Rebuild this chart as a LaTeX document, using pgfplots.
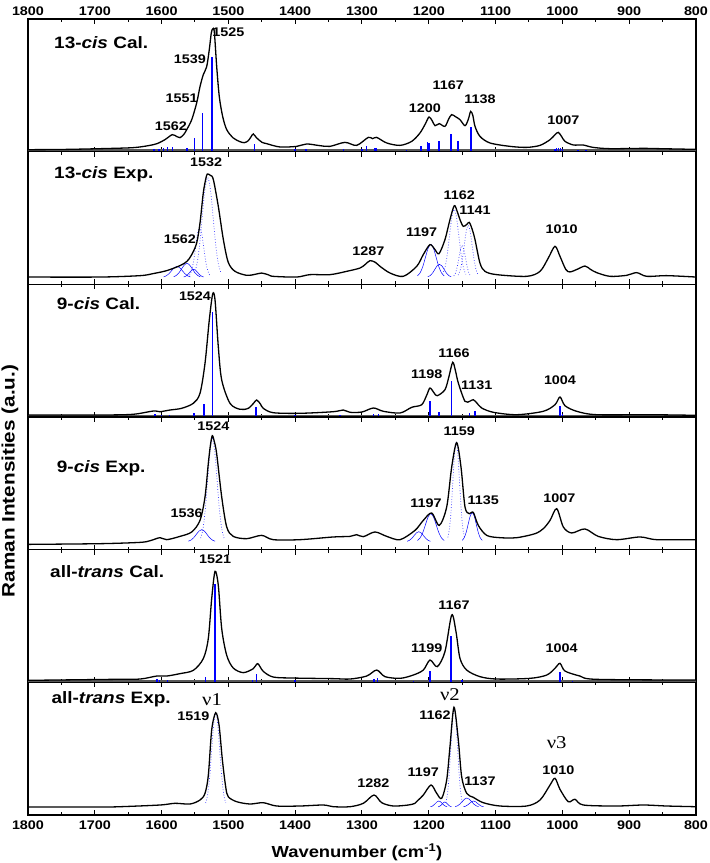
\documentclass[border=0pt]{standalone}
\usepackage{pgfplots}
\pgfplotsset{compat=1.18}
\usepackage{fontspec}
\setmainfont{Liberation Sans}[FakeStretch=1.15]
\newfontfamily\serifnu{Liberation Serif}[FakeStretch=1.15]
\newcommand\pk{\bfseries\fontsize{12.5}{14}\selectfont}
\newcommand\ttl{\bfseries\fontsize{16.5}{19}\selectfont}
\newcommand\nuf{\serifnu\fontsize{18}{20}\selectfont}
\pgfkeys{/pgf/number format/set thousands separator={}}
\pgfplotsset{
  panel/.style={
    width=668pt, height=132.667pt, scale only axis,
    xmin=800, xmax=1800, x dir=reverse,
    ymin=0, ymax=132.667,
    xtick={800,900,...,1800}, minor xtick={850,950,...,1750},
    ytick=\empty,
    tick align=inside,
    major tick length=5pt, minor tick length=3pt,
    every tick/.style={black, line width=1pt},
    axis line style={line width=1.2pt},
    anchor=north west,
    /pgf/number format/assume math mode=true,
    ticklabel style={font=\bfseries\fontsize{12.5}{14}\selectfont},
  },
  spec/.style={black, line width=1.3pt, smooth, tension=0.5, no marks},
  stick/.style={blue, ycomb, line width=1.5pt, no marks},
  base/.style={gray!70!black, line width=2pt, no marks},
  fits/.style={blue, line width=0.5pt, smooth, no marks},
  fitd/.style={blue!80!white, dotted, line width=0.7pt, smooth, no marks},
}
\begin{document}
\begin{tikzpicture}
\path[use as bounding box] (-28pt,19pt) rectangle (682pt,-844pt);
\node[rotate=90, font=\bfseries\fontsize{18}{21}\selectfont] at (-18pt,-462pt) {Raman Intensities (a.u.)};

% ---------- Panel 1: 13-cis Cal.
\begin{axis}[panel, at={(0pt,0pt)}, xticklabel pos=upper]
\addplot[base] coordinates {(1800,1.5)(800,1.5)};
\addplot[stick] coordinates {(1611,3)(1604,3)(1597,4)(1591,5)(1584,4.3)(1562,4)(1551,13.3)(1538.5,38.3)(1524.5,95)(1461,7.7)(1400,3)(1384,3)(1328,3)(1300,3)(1293,6)(1280.5,4)(1278,4)(1233,2)(1212,6)(1202,9.7)(1200,9)(1185,11)(1167,17.7)(1156,11)(1137,24.3)(1011,2.5)(1009,4)(1006,4)(1003,4)(1000,2.5)(977,1.5)(965,1.5)};
\addplot[spec] coordinates {(1800,2)(1750,2.2)(1692,3)(1643,4)(1620,6)(1607,8)(1595,12)(1584,17)(1577,15)(1572.5,14)(1567,17)(1562.4,22)(1554.9,32)(1547.5,48.7)(1542.5,65)(1537.6,77)(1532.5,85)(1528.6,102)(1525.6,118.7)(1523.5,122.7)(1521.1,120)(1517.5,85)(1513.6,55)(1508.5,35)(1502.5,22)(1492.7,13.7)(1482.6,10)(1476,9)(1470.2,11)(1466,15)(1462.7,17.7)(1458,14)(1450,9.5)(1442.7,8)(1422.8,4.7)(1397.8,5.3)(1382.8,7.7)(1362.9,6)(1347.9,5.3)(1325.5,9.3)(1308,6.3)(1290.6,14.3)(1284,13)(1278,14.3)(1263,8.7)(1243.1,6.3)(1225.6,10.3)(1213.2,18.7)(1205,28)(1199.7,34.7)(1195,31)(1190.7,26)(1184.3,28)(1175.8,25.3)(1170,33)(1165.7,37)(1160,35)(1153.3,32)(1145.8,26)(1141,32)(1137.3,40.3)(1134,36)(1130.8,25.3)(1123.4,15.3)(1108.4,8.7)(1078.4,5.3)(1053.5,4.3)(1033.5,6.3)(1018.5,12)(1011,17)(1006.1,19.3)(1001,15)(996.1,10.3)(983.7,6.7)(969.2,6.7)(954.2,4.3)(928.8,3)(879.4,3.3)(853.9,3)(800,2.3)};
\node[anchor=west, font=\ttl] at (axis cs:1766,109) {13-\textit{cis} Cal.};
\node[font=\pk] at (axis cs:1500,119.7) {1525};
\node[font=\pk] at (axis cs:1557.5,92) {1539};
\node[font=\pk] at (axis cs:1570,53.7) {1551};
\node[font=\pk] at (axis cs:1586,25.3) {1562};
\node[font=\pk] at (axis cs:1205.7,43.7) {1200};
\node[font=\pk] at (axis cs:1170.8,66.3) {1167};
\node[font=\pk] at (axis cs:1123.4,52.7) {1138};
\node[font=\pk] at (axis cs:998.6,31.3) {1007};
\end{axis}

% ---------- Panel 2: 13-cis Exp.
\begin{axis}[panel, at={(0pt,-132.667pt)}, xticklabels={}]
\addplot[fits] coordinates {(1597,7.5)(1593,8.5)(1589,10.6)(1585,13.7)(1581,16.7)(1577,18)(1573,16.7)(1569,13.7)(1565,10.6)(1561,8.5)(1557,7.5)};
\addplot[fits] coordinates {(1582,7.6)(1578,8.9)(1574,11.6)(1570,15.5)(1566,19.3)(1562,21)(1558,19.3)(1554,15.5)(1550,11.6)(1546,8.9)(1542,7.6)};
\addplot[fits] coordinates {(1567,7.35)(1564,8.1)(1561,9.6)(1558,11.9)(1555,14.1)(1552,15)(1549,14.1)(1546,11.9)(1543,9.6)(1540,8.1)(1537,7.35)};
\addplot[fitd] coordinates {(1558,9.2)(1555,13.8)(1552,23.3)(1549,37.4)(1546,51.1)(1543,57)(1540,51.1)(1537,37.4)(1534,23.3)(1531,13.8)(1528,9.2)};
\addplot[fitd] coordinates {(1551,11.4)(1547,20.5)(1543,39.5)(1539,67.7)(1535,95.2)(1531,107)(1527,95.2)(1523,67.7)(1519,39.5)(1515,20.5)(1511,11.4)};
\addplot[fits] coordinates {(1217,8.45)(1213,11.5)(1209,17.7)(1205,27)(1201,36.1)(1197,40)(1193,36.1)(1189,27)(1185,17.7)(1181,11.5)(1177,8.45)};
\addplot[fits] coordinates {(1201.5,7.6)(1198,8.75)(1194.5,11.2)(1191,14.9)(1187.5,18.5)(1184,20)(1180.5,18.5)(1177,14.9)(1173.5,11.2)(1170,8.75)(1166.5,7.6)};
\addplot[fitd] coordinates {(1179.5,10)(1176,16.2)(1172.5,29.1)(1169,48.3)(1165.5,67)(1162,75)(1158.5,67)(1155,48.3)(1151.5,29.1)(1148,16.2)(1144.5,10)};
\addplot[fitd] coordinates {(1162.5,8.4)(1160,11.3)(1157.5,17.4)(1155,26.4)(1152.5,35.2)(1150,39)(1147.5,35.2)(1145,26.4)(1142.5,17.4)(1140,11.3)(1137.5,8.4)};
\addplot[fitd] coordinates {(1156,9.3)(1153,14)(1150,23.9)(1147,38.6)(1144,52.9)(1141,59)(1138,52.9)(1135,38.6)(1132,23.9)(1129,14)(1126,9.3)};
\addplot[spec] coordinates {(1800,7.3)(1692,7.3)(1632,8.7)(1612.9,10.7)(1592.4,13.7)(1572.5,18.7)(1562,23)(1554.9,29.7)(1547.5,41.3)(1542.5,61.3)(1537.6,91.3)(1534,105)(1531.6,110.3)(1527,109)(1522.6,105)(1515.1,78)(1507.6,45)(1500.2,22)(1490.1,13)(1472.6,9)(1460,10)(1450.2,11.3)(1440,9.5)(1432.8,8)(1397.8,7.3)(1377.8,9.7)(1347.8,9.7)(1322.9,13)(1303,16.3)(1295,20)(1288,23.7)(1280,22)(1273,18)(1258,11.3)(1238.2,8)(1218.1,18)(1208.3,29.7)(1198.2,39.7)(1190.7,34.7)(1184.7,30.7)(1175.8,44.7)(1168.3,64.7)(1161.8,78.7)(1157,72)(1153.3,64.7)(1148.4,58)(1143,60)(1139.4,62)(1135,55)(1130.8,44.7)(1123.4,21.3)(1115.9,13)(1098.4,9.7)(1053.5,8)(1033.5,13)(1021.1,26.3)(1011.1,38)(1003.6,28)(995,15)(988.7,12.4)(978,15)(966.2,18.3)(958,15)(948.7,11.7)(928.8,8)(903.8,9)(888.8,11.7)(873.8,8)(843.8,8.7)(800,7.3)};
\node[anchor=west, font=\ttl] at (axis cs:1766,109.7) {13-\textit{cis} Exp.};
\node[font=\pk] at (axis cs:1533.5,122) {1532};
\node[font=\pk] at (axis cs:1572.5,44.7) {1562};
\node[font=\pk] at (axis cs:1290.6,33) {1287};
\node[font=\pk] at (axis cs:1210.7,52) {1197};
\node[font=\pk] at (axis cs:1154.3,88.7) {1162};
\node[font=\pk] at (axis cs:1130.8,73.7) {1141};
\node[font=\pk] at (axis cs:1001,55.4) {1010};
\end{axis}

% ---------- Panel 3: 9-cis Cal.
\begin{axis}[panel, at={(0pt,-265.333pt)}, xticklabels={}]
\addplot[base] coordinates {(1800,1.5)(800,1.5)};
\addplot[stick] coordinates {(1610,2.7)(1600,2.5)(1588.5,2)(1551.5,4)(1536.5,13.3)(1524,105)(1459,10)(1400,2)(1380,1.5)(1333,2)(1325,1.5)(1310,1.5)(1283,2.7)(1275.6,2.7)(1225.6,1.5)(1198.2,16)(1184.7,5)(1165.7,36)(1139.4,4.3)(1130.8,6)(1023.6,1.5)(1003.6,10.7)(1000,3)(980,1.5)};
\addplot[spec] coordinates {(1800,2)(1692,2)(1643,2.7)(1612.4,6)(1602.4,5.3)(1587.4,7)(1570,8.7)(1552.5,13.7)(1542.5,23.7)(1535,53.7)(1528.6,97)(1523.5,123)(1520,117)(1515.1,70.3)(1510,37)(1497.6,13.7)(1482.6,7.7)(1470.2,8.7)(1462,14)(1457.6,17)(1452,13)(1447.8,8.7)(1432.8,4.3)(1392.8,3.7)(1343,5.3)(1328,7)(1318,4.7)(1300,5)(1283,9)(1268,5.7)(1243,4)(1225.6,9.7)(1210.6,12.3)(1203,22)(1198.2,29)(1192,24)(1187.3,21.3)(1175.8,27.3)(1170,40)(1164.2,54.7)(1160,46)(1155.8,34)(1145.8,15.7)(1138,16)(1133.4,17.3)(1128,14)(1120.8,9)(1103.3,4.7)(1068.4,2.3)(1028.6,5.7)(1011.1,12.3)(1003.6,20)(996.1,11.3)(978.6,5.7)(948.7,2.3)(868.9,2.3)(800,1.7)};
\node[anchor=west, font=\ttl] at (axis cs:1762,113.3) {9-\textit{cis} Cal.};
\node[font=\pk] at (axis cs:1550,121.3) {1524};
\node[font=\pk] at (axis cs:1203.2,43) {1198};
\node[font=\pk] at (axis cs:1162.3,64) {1166};
\node[font=\pk] at (axis cs:1128.3,32.3) {1131};
\node[font=\pk] at (axis cs:1003.6,37.3) {1004};
\end{axis}

% ---------- Panel 4: 9-cis Exp.
\begin{axis}[panel, at={(0pt,-398pt)}, xticklabels={}]
\addplot[fits] coordinates {(1560,8.5)(1556,9.6)(1552,11.9)(1548,15.3)(1544,18.6)(1540,20)(1536,18.6)(1532,15.3)(1528,11.9)(1524,9.6)(1520,8.5)};
\addplot[fitd] coordinates {(1541.5,11.6)(1538,21)(1534.5,40.8)(1531,70.1)(1527.5,98.7)(1524,111)(1520.5,98.7)(1517,70.1)(1513.5,40.8)(1510,21)(1506.5,11.6)};
\addplot[fits] coordinates {(1232.5,8.4)(1229,9.35)(1225.5,11.25)(1222,14.1)(1218.5,16.8)(1215,18)(1211.5,16.8)(1208,14.1)(1204.5,11.25)(1201,9.35)(1197.5,8.4)};
\addplot[fits] coordinates {(1217,9.2)(1213,11.8)(1209,17.1)(1205,25)(1201,32.7)(1197,36)(1193,32.7)(1189,25)(1185,17.1)(1181,11.8)(1177,9.2)};
\addplot[fitd] coordinates {(1171.5,12.4)(1169,21.4)(1166.5,40.2)(1164,68.1)(1161.5,95.3)(1159,107)(1156.5,95.3)(1154,68.1)(1151.5,40.2)(1149,21.4)(1146.5,12.4)};
\addplot[fits] coordinates {(1150,9.3)(1147,11.9)(1144,17.4)(1141,25.6)(1138,33.6)(1135,37)(1132,33.6)(1129,25.6)(1126,17.4)(1123,11.9)(1120,9.3)};
\addplot[spec] coordinates {(1800,5.3)(1692,6)(1632.3,7.3)(1617,9)(1602.4,12)(1592.4,10)(1572.5,13.3)(1554.9,17.7)(1542.5,29.3)(1535,52.7)(1530.1,86)(1527,104)(1524.1,114)(1521,108)(1517.5,95.7)(1510,52.7)(1502.5,22.7)(1492.7,13.3)(1472.6,11)(1450.2,14.3)(1432.8,10)(1392.8,10)(1343,12.7)(1318,13.3)(1308,15)(1298,13)(1280.6,17.7)(1263,13.3)(1243.1,10)(1220.7,19.3)(1208.2,29.3)(1195.7,36.7)(1184.3,24.3)(1173.2,42.7)(1165.7,82.7)(1158.3,107)(1151.8,82.7)(1145.8,42.7)(1139.4,36)(1133.4,37.3)(1125.9,24.3)(1113.3,14.3)(1093.4,12)(1068.4,12)(1041,16)(1028.6,21)(1018.5,29.3)(1008.5,41)(998.6,22.7)(986.1,16.7)(966.2,20.7)(946.3,13.3)(918.7,10)(883.8,12.7)(858.8,10)(800,10)};
\node[anchor=west, font=\ttl] at (axis cs:1762,81.7) {9-\textit{cis} Exp.};
\node[font=\pk] at (axis cs:1522.6,123.3) {1524};
\node[font=\pk] at (axis cs:1562.4,36.7) {1536};
\node[font=\pk] at (axis cs:1154.3,118.3) {1159};
\node[font=\pk] at (axis cs:1204.2,46) {1197};
\node[font=\pk] at (axis cs:1118.4,49.3) {1135};
\node[font=\pk] at (axis cs:1004.6,51.7) {1007};
\end{axis}

% ---------- Panel 5: all-trans Cal.
\begin{axis}[panel, at={(0pt,-530.667pt)}, xticklabels={}]
\addplot[base] coordinates {(1800,1.5)(800,1.5)};
\addplot[stick] coordinates {(1607,3.3)(1603,2)(1591,2.3)(1534,5.7)(1520,98)(1464,2)(1457.6,8.3)(1400,2)(1282,3)(1277,4)(1223,1.5)(1198,11.7)(1166.8,46.7)(1150,2)(1003.6,10)(985,1.5)};
\addplot[spec] coordinates {(1800,2)(1672.3,3)(1632.3,3.3)(1607.3,6.3)(1592.4,6.3)(1572.5,8.7)(1552.5,12)(1537.6,23.7)(1530.1,43.7)(1525,83.7)(1520,111)(1515.1,97)(1510,53.7)(1502.5,27)(1492.7,14.3)(1477.7,9.7)(1462.7,13.7)(1456.1,18.7)(1447.8,11)(1432.8,5.3)(1402.8,4.3)(1343,3.7)(1318,3.3)(1293,6.3)(1278,12.3)(1265.6,5.7)(1243.1,4)(1223.2,7.3)(1208.2,12.3)(1198.2,22.3)(1187.3,15.7)(1175.8,30.7)(1165.7,67.3)(1159.3,50.7)(1153.3,24)(1143.3,12.3)(1123.4,5.7)(1098.4,3.3)(1048.5,4)(1023.5,7.3)(1011.1,14)(1003.6,19)(996.1,11.3)(973.7,6.3)(948.7,3)(800,2.3)};
\node[anchor=west, font=\ttl] at (axis cs:1772,111) {all-\textit{trans} Cal.};
\node[font=\pk] at (axis cs:1520,122.7) {1521};
\node[font=\pk] at (axis cs:1203.2,34.4) {1199};
\node[font=\pk] at (axis cs:1162.3,77) {1167};
\node[font=\pk] at (axis cs:1001,34.4) {1004};
\end{axis}

% ---------- Panel 6: all-trans Exp.
\begin{axis}[panel, at={(0pt,-663.333pt)},
  xlabel={Wavenumber (cm\textsuperscript{-1})},
  xlabel style={font=\bfseries\fontsize{16}{18}\selectfont, at={(axis description cs:0.5,0)}, anchor=center, yshift=-37pt, xshift=-5pt},
  xticklabel style={yshift=-2pt}]
\addplot[fitd] coordinates {(1534,12.1)(1531,20.7)(1528,38.6)(1525,65.1)(1522,90.9)(1519,102)(1516,90.9)(1513,65.1)(1510,38.6)(1507,20.7)(1504,12.1)};
\addplot[fitd] coordinates {(1174.5,12.4)(1172,21.4)(1169.5,40.2)(1167,68.1)(1164.5,95.3)(1162,107)(1159.5,95.3)(1157,68.1)(1154.5,40.2)(1152,21.4)(1149.5,12.4)};
\addplot[fits] coordinates {(1197.5,8.3)(1195,8.8)(1192.5,10)(1190,11.6)(1187.5,13.3)(1185,14)(1182.5,13.3)(1180,11.6)(1177.5,10)(1175,8.8)(1172.5,8.3)};
\addplot[fits] coordinates {(1186,8.2)(1184,8.7)(1182,9.6)(1180,11)(1178,12.4)(1176,13)(1174,12.4)(1172,11)(1170,9.6)(1168,8.7)(1166,8.2)};
\addplot[fits] coordinates {(1160.5,8.4)(1157,9.2)(1153.5,10.9)(1150,13.5)(1146.5,15.9)(1143,17)(1139.5,15.9)(1136,13.5)(1132.5,10.9)(1129,9.2)(1125.5,8.4)};
\addplot[fits] coordinates {(1148,8.3)(1145,8.8)(1142,10)(1139,11.6)(1136,13.3)(1133,14)(1130,13.3)(1127,11.6)(1124,10)(1121,8.8)(1118,8.3)};
\addplot[spec] coordinates {(1800,8)(1692,8)(1662.3,8.3)(1602.4,10)(1580,11.7)(1557.5,11)(1542.5,15)(1535,21.7)(1530,40)(1525,85)(1519,102.3)(1514,90)(1509,55)(1504,28)(1500.2,18.3)(1487.6,13.3)(1467.7,11)(1447.8,12.3)(1427.7,9)(1392.8,9)(1357.9,10)(1343,8.3)(1318,8.3)(1298,11.7)(1282,20)(1270.5,12.3)(1253.2,9)(1230.7,10)(1220.7,11.7)(1215.7,15)(1208.2,20)(1196.7,30)(1188.2,21.7)(1180.7,16.7)(1173.2,35)(1168.3,68.3)(1162.3,107.7)(1155.8,75)(1150.8,38.3)(1143.3,21.7)(1133.4,17.7)(1118.4,12.3)(1093.4,9)(1053.5,9)(1033.5,15)(1018.5,30)(1011.1,36.7)(1003.6,25.7)(991.2,13.3)(981.2,15.7)(968.7,10)(918.8,9)(878.9,10)(843.9,9)(800,8.3)};
\node[anchor=west, font=\ttl] at (axis cs:1770,115.3) {all-\textit{trans} Exp.};
\node[font=\nuf] at (axis cs:1524.5,115.3) {ν1};
\node[font=\nuf] at (axis cs:1168.3,120.3) {ν2};
\node[font=\nuf] at (axis cs:1008.5,72) {ν3};
\node[font=\pk] at (axis cs:1552.5,98.6) {1519};
\node[font=\pk] at (axis cs:1190.7,100.3) {1162};
\node[font=\pk] at (axis cs:1283,32) {1282};
\node[font=\pk] at (axis cs:1208.2,42.6) {1197};
\node[font=\pk] at (axis cs:1123.4,33.6) {1137};
\node[font=\pk] at (axis cs:1006.1,45.3) {1010};
\end{axis}
\end{tikzpicture}
\end{document}
